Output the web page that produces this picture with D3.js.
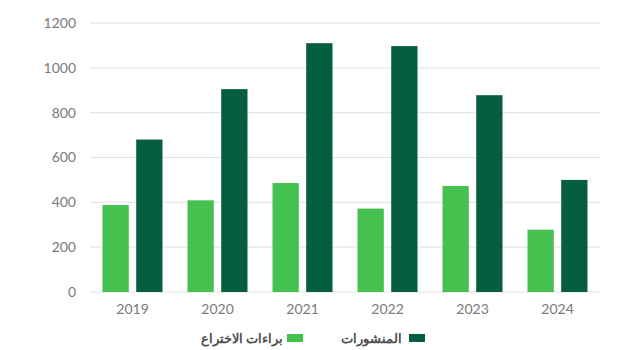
<!DOCTYPE html>
<html>
<head>
<meta charset="utf-8">
<script src="https://cdn.jsdelivr.net/npm/d3@7/dist/d3.min.js"></script>
<style>
  html, body { margin: 0; padding: 0; background: #ffffff; }
  svg { display: block; }
  text { font-family: Lato, "Open Sans", "Noto Sans", sans-serif; }
</style>
</head>
<body>
<svg id="chart" width="640" height="350"></svg>
<script>
// Years on the x axis
const years = ["2019", "2020", "2021", "2022", "2023", "2024"];
// Patents per year
const patents = [388, 409, 486, 372, 473, 278];
// Publications per year
const publications = [680, 905, 1110, 1097, 878, 500];
// Y axis ticks
const yTicks = [0, 200, 400, 600, 800, 1000, 1200];
// Series names
const seriesNames = ["براءات الاختراع", "المنشورات"];
const seriesColors = ["#45c150", "#055e3d"];

const svg = d3.select("#chart");
const margin = { top: 23, right: 40, bottom: 58, left: 90 };
const width = 640 - margin.left - margin.right;
const height = 350 - margin.top - margin.bottom;

const g = svg.append("g").attr("transform", `translate(${margin.left},${margin.top})`);

const x = d3.scaleBand().domain(years).range([0, width]).paddingInner(0).paddingOuter(0);
const y = d3.scaleLinear().domain([0, 1200]).range([height, 0]);

// Grid lines
g.append("g")
  .selectAll("line")
  .data(yTicks)
  .join("line")
  .attr("x1", 0).attr("x2", width)
  .attr("y1", d => y(d)).attr("y2", d => y(d))
  .attr("stroke", "#e0e0e0")
  .attr("stroke-width", 1);

// Y axis labels
const yAxis = d3.axisLeft(y).tickValues(yTicks).tickFormat(d3.format("d")).tickSize(0).tickPadding(14);
g.append("g").call(yAxis)
  .call(a => a.select(".domain").remove())
  .selectAll("text")
  .attr("fill", "#7a7a7a")
  .attr("font-size", 14);

// X axis labels
const xAxis = d3.axisBottom(x).tickSize(0).tickPadding(12);
g.append("g").attr("transform", `translate(0,${height})`).call(xAxis)
  .call(a => a.select(".domain").remove())
  .selectAll("text")
  .attr("fill", "#7a7a7a")
  .attr("font-size", 14);

// Bars grouped per year
const inner = d3.scaleBand().domain([0, 1]).range([x.bandwidth() / 2 - 30, x.bandwidth() / 2 + 30]).paddingInner(0.22).paddingOuter(0);
const rows = years.map((yr, i) => ({ yr, vals: [patents[i], publications[i]] }));

const groups = g.selectAll(".grp").data(rows).join("g")
  .attr("class", "grp")
  .attr("transform", d => `translate(${x(d.yr)},0)`);

groups.selectAll("rect")
  .data(d => d.vals.map((v, k) => ({ v, k })))
  .join("rect")
  .attr("x", d => inner(d.k))
  .attr("width", inner.bandwidth())
  .attr("y", d => y(d.v))
  .attr("height", d => height - y(d.v))
  .attr("fill", d => seriesColors[d.k]);

// Legend (read right-to-left: swatch, then its name to the left)
const legend = svg.append("g");
const legendItems = [
  { name: seriesNames[1], color: seriesColors[1], swatchX: 409, textX: 402 },
  { name: seriesNames[0], color: seriesColors[0], swatchX: 287, textX: 283 }
];
legendItems.forEach(it => {
  legend.append("rect")
    .attr("x", it.swatchX).attr("y", 334)
    .attr("width", 16).attr("height", 8)
    .attr("fill", it.color);
  legend.append("text")
    .attr("x", it.textX).attr("y", 338)
    .attr("dy", "0.35em")
    .attr("text-anchor", "end")
    .attr("fill", "#505050")
    .attr("font-size", 13)
    .attr("font-weight", "bold")
    .attr("font-family", "'DejaVu Sans', sans-serif")
    .text(it.name);
});
</script>
</body>
</html>
